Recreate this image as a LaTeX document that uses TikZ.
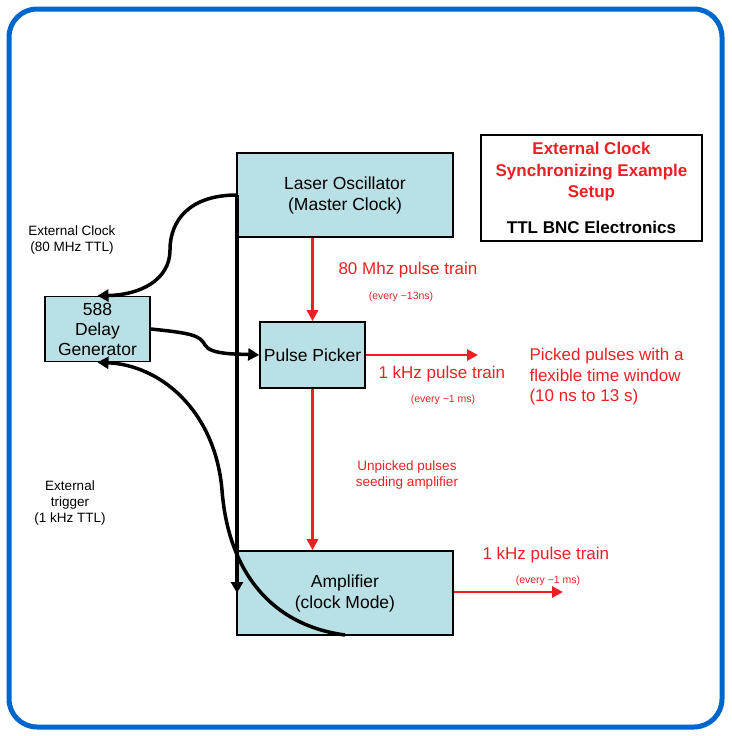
\documentclass[tikz,border=0pt]{standalone}
\usepackage{fontspec}
\setmainfont{Liberation Sans}
\usetikzlibrary{arrows.meta}
\definecolor{boxfill}{RGB}{185,224,228}
\definecolor{frameblue}{RGB}{0,102,204}
\definecolor{myred}{RGB}{236,32,36}
\begin{document}
\begin{tikzpicture}[x=1pt,y=-1pt,
  box/.style={draw=black,line width=1.6pt,fill=boxfill,inner sep=0pt,align=center,font=\fontsize{17.5}{21}\selectfont},
  blk/.style={line width=3.5pt,-{Triangle[length=11pt,width=12pt]}},
  red/.style={draw=myred,line width=2.8pt,-{Triangle[length=11pt,width=11pt]}},
  rtxt/.style={text=myred,font=\fontsize{17}{20.5}\selectfont,align=left},
  rsm/.style={text=myred,font=\fontsize{10.5}{12}\selectfont,align=center},
  btxt/.style={font=\fontsize{13.5}{16}\selectfont,align=center}]
\useasboundingbox (0,0) rectangle (731,736);
\draw[frameblue,line width=5pt,rounded corners=28pt] (9,9) rectangle (722,727);
\node[box,minimum width=216pt,minimum height=84pt] (laser) at (345,195) {Laser Oscillator\\(Master Clock)};
\node[box,minimum width=105pt,minimum height=66pt] (pp) at (312.5,355) {Pulse Picker};
\node[box,minimum width=105pt,minimum height=65pt,font=\fontsize{17.5}{20}\selectfont] (dg) at (97.5,329) {588\\Delay\\Generator};
\node[box,minimum width=216pt,minimum height=84pt] (amp) at (345,593) {Amplifier\\(clock Mode)};
\node[draw=black,line width=1.6pt,minimum width=221pt,minimum height=106pt] (tb) at (591.5,188) {};
\node[text=myred,font=\bfseries\fontsize{17}{21.5}\selectfont,align=center] (tt) at (591.5,172) {External Clock\\Synchronizing Example\\Setup};
\node[font=\bfseries\fontsize{17}{20}\selectfont] (tb2) at (591.5,227) {TTL BNC Electronics};
% black connectors
\coordinate (lt) at (237,195);
\coordinate (vb) at (237,593);
\draw[line width=3.5pt] (lt) -- (237,230);
\draw[blk] (237,230) -- (vb);
\draw[blk] (lt) .. controls (190,195) and (170,220) .. (170,250) .. controls (170,280) and (140,295) .. (dg.north);
\draw[blk] (dg.east) .. controls (190,333) and (200,335) .. (205,345) .. controls (210,355) and (240,354) .. (pp.west);
\coordinate (ab) at (345,635);
\draw[blk] (ab) .. controls (270,625) and (228,570) .. (222,490) .. controls (215,410) and (160,365) .. (dg.south);
% red connectors
\draw[red] (laser.south -| pp.north) -- (pp.north);
\coordinate (r1) at (478,355);
\draw[red] (pp.east) -- (r1);
\draw[red] (pp.south) -- (pp.south |- amp.north);
\coordinate (r2) at (563,592);
\draw[red] (amp.east |- r2) -- (r2);
% labels
\node[rtxt,anchor=west] (l1) at (335,270) {80 Mhz pulse train};
\node[rsm] (l2) at (401,297) {(every \textasciitilde13ns)};
\node[rtxt,anchor=west] (l3) at (375,374) {1 kHz pulse train};
\node[rsm] (l4) at (443,400) {(every \textasciitilde1 ms)};
\node[rtxt,anchor=west] (l5) at (526,377) {Picked pulses with a\\flexible time window\\(10 ns to 13 s)};
\node[rsm,font=\fontsize{13.5}{16}\selectfont] (l6) at (407,475) {Unpicked pulses\\seeding amplifier};
\node[rtxt,anchor=west] (l7) at (479,555) {1 kHz pulse train};
\node[rsm] (l8) at (548,581) {(every \textasciitilde1 ms)};
\node[btxt] (e1) at (72,240) {External Clock\\(80 MHz TTL)};
\node[btxt] (e2) at (70,503) {External\\trigger\\(1 kHz TTL)};
\end{tikzpicture}
\end{document}
